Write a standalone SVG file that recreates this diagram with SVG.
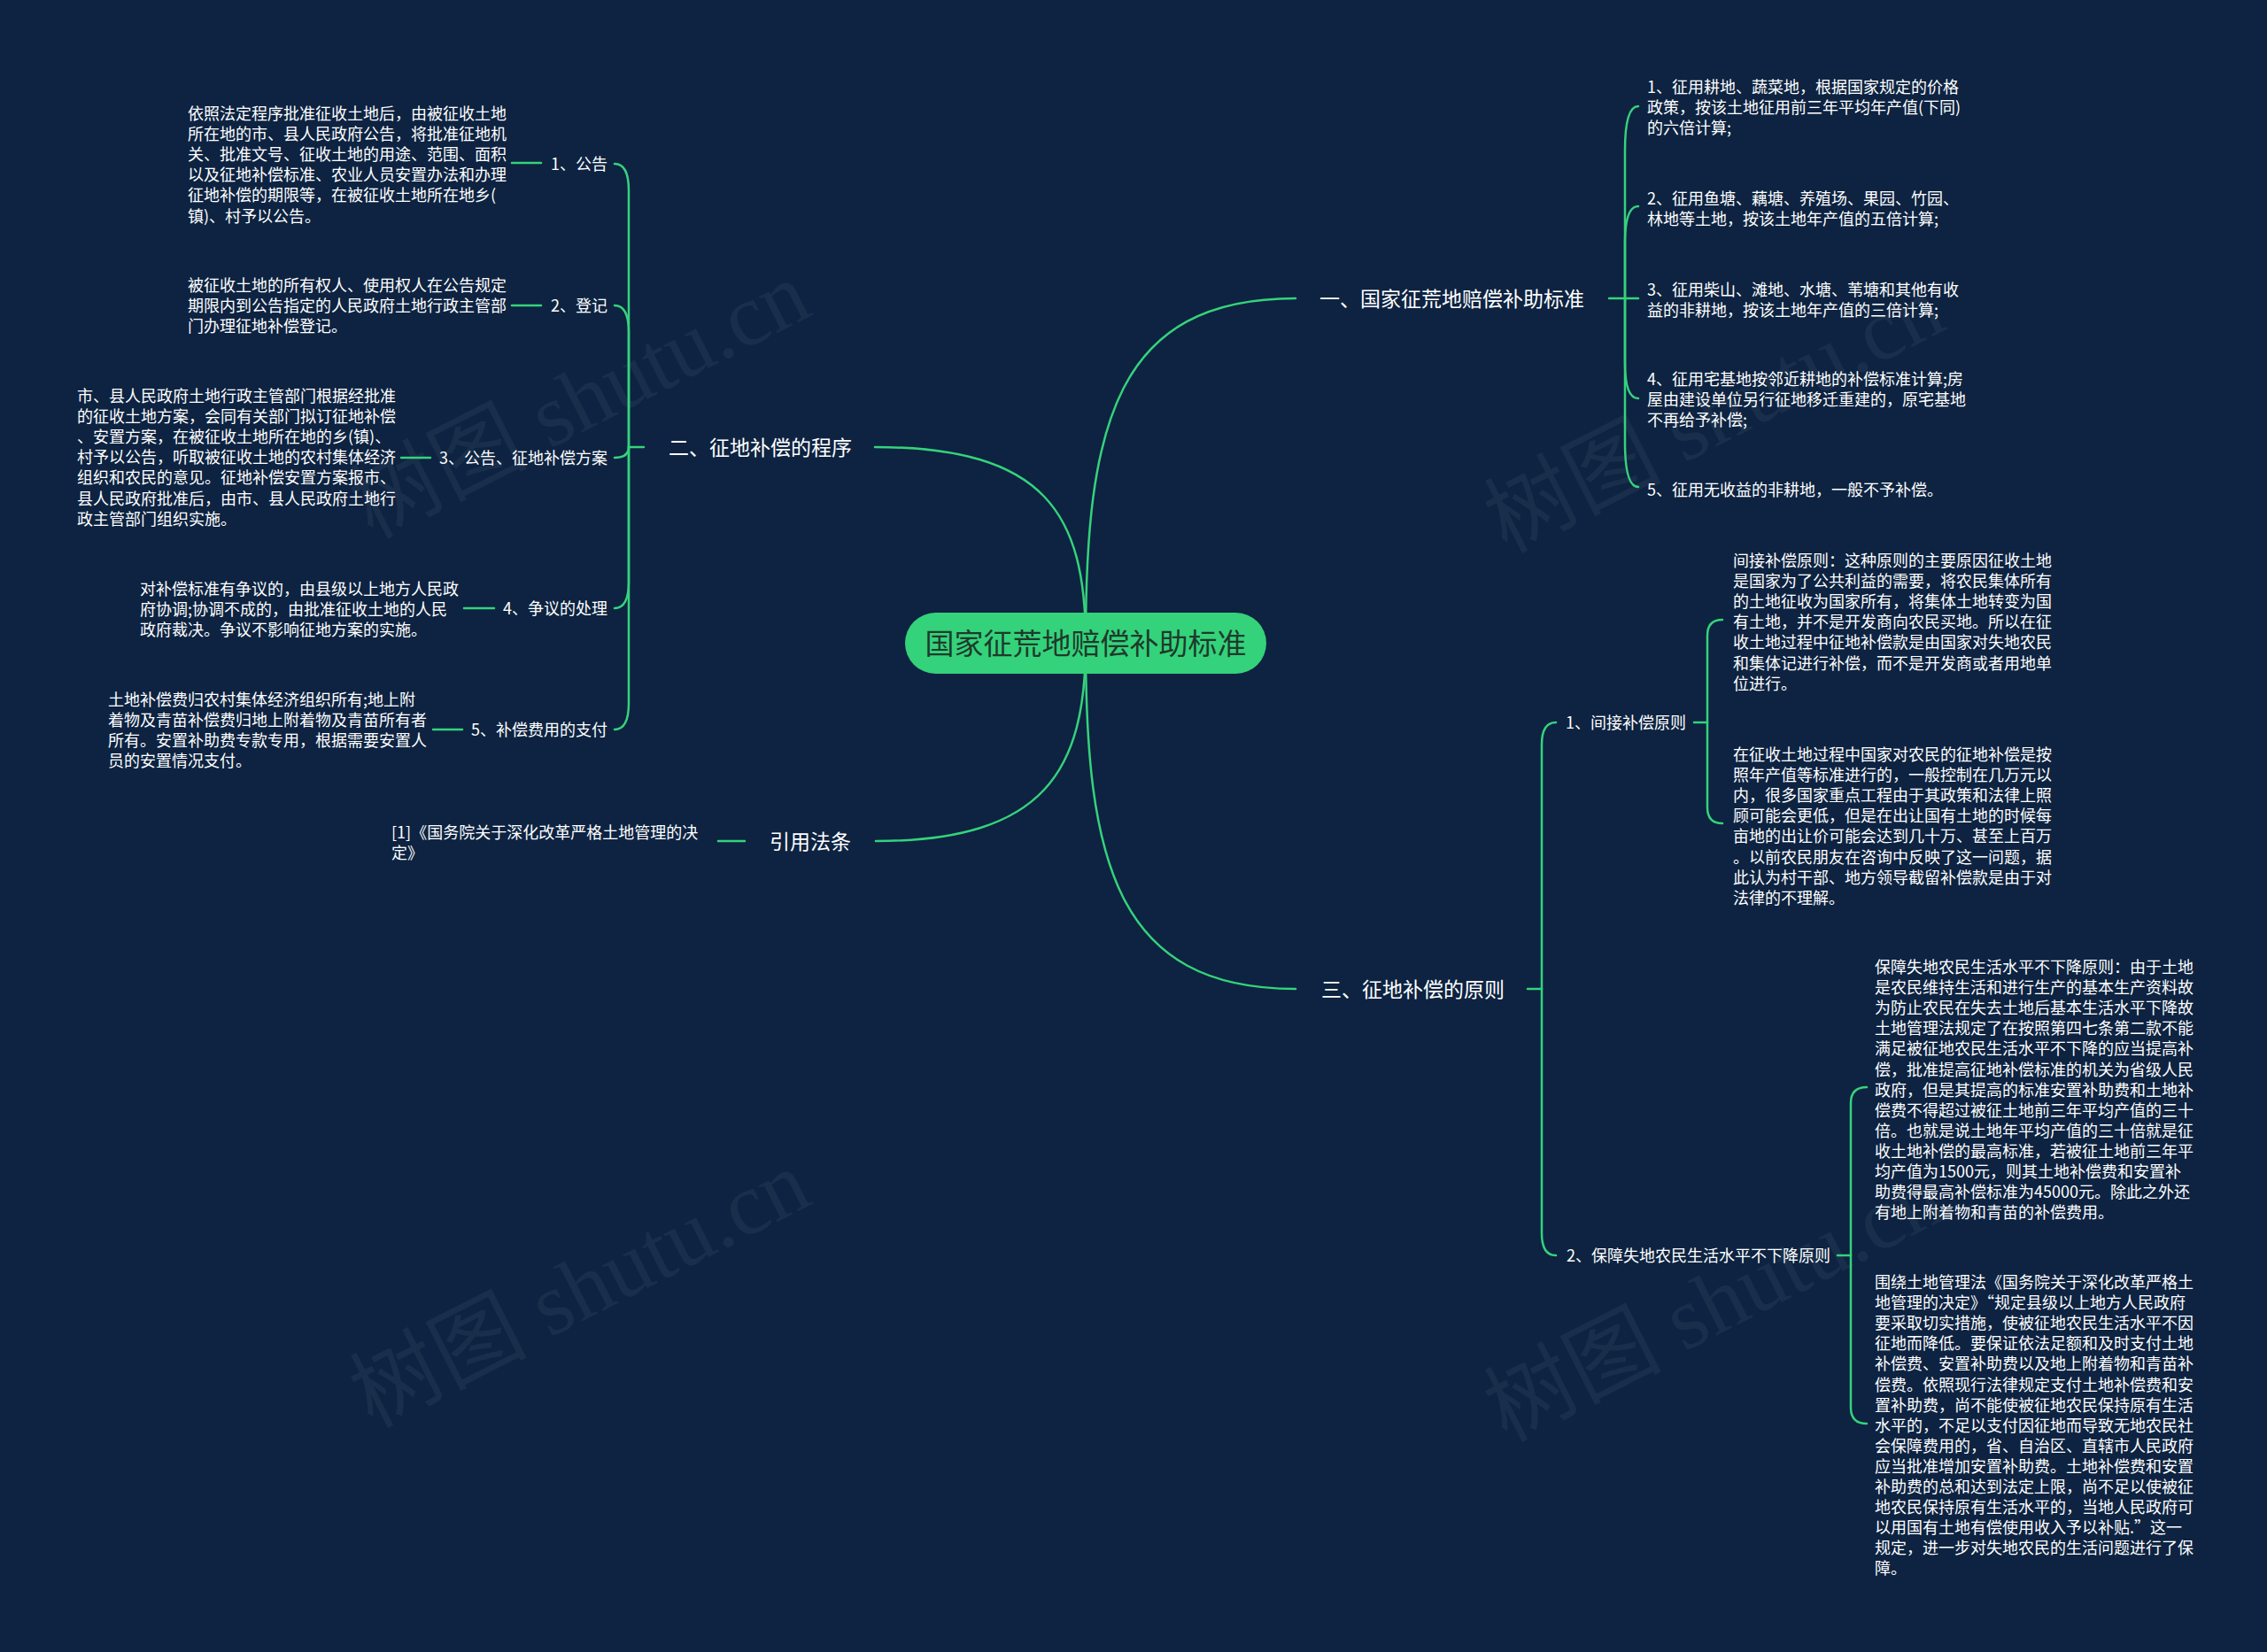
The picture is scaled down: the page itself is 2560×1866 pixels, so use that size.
<svg xmlns="http://www.w3.org/2000/svg" width="2560" height="1866" viewBox="0 0 2560 1866">
<style>
.t{font-family:"Noto Sans CJK SC","Noto Sans CJK JP",sans-serif;fill:#ffffff}
.s{font-size:18px}
.b{font-size:23px}
.e{text-anchor:end}
.r{font-size:33px;fill:#1e3a2b;text-anchor:middle}
.c{fill:none;stroke:#36d27c;stroke-width:2.5;stroke-linecap:round}
.w{font-family:"Liberation Serif","Noto Sans CJK SC",serif;font-size:100px;fill:#ffffff;fill-opacity:0.05}
</style>
<rect width="2560" height="1866" fill="#0d2341"/>
<g id="watermarks">
<text class="w" text-anchor="middle" transform="translate(670,482) rotate(-27)">树图 shutu.cn</text>
<text class="w" text-anchor="middle" transform="translate(1951,498) rotate(-27)">树图 shutu.cn</text>
<text class="w" text-anchor="middle" transform="translate(670,1486) rotate(-27)">树图 shutu.cn</text>
<text class="w" text-anchor="middle" transform="translate(1951,1502) rotate(-27)">树图 shutu.cn</text>
</g>
<g id="connectors">
<path class="c" d="M1226,726 C1226,480 1260,337 1463,337"/>
<path class="c" d="M1226,726 C1226,972 1260,1117 1463,1117"/>
<path class="c" d="M1226,726 C1226,580 1180,505 988,505"/>
<path class="c" d="M1226,726 C1226,870 1180,950 989,950"/>
<path class="c" d="M1817,337 H1850"/>
<path class="c" d="M1835,337 V170 Q1835,120 1850,120"/>
<path class="c" d="M1835,337 V275 Q1835,233 1850,233"/>
<path class="c" d="M1835,337 V410 Q1835,450 1850,450"/>
<path class="c" d="M1835,337 V500 Q1835,550 1850,550"/>
<path class="c" d="M727,505 H710"/>
<path class="c" d="M710,505 V215 Q710,185 694,185"/>
<path class="c" d="M710,505 V375 Q710,345 694,345"/>
<path class="c" d="M710,505 Q710,517 694,517"/>
<path class="c" d="M710,505 V657 Q710,687 694,687"/>
<path class="c" d="M710,505 V794 Q710,824 694,824"/>
<path class="c" d="M578,184 H611"/>
<path class="c" d="M578,345 H611"/>
<path class="c" d="M453,517 H486"/>
<path class="c" d="M524,687 H558"/>
<path class="c" d="M489,824 H522"/>
<path class="c" d="M811,950 H841"/>
<path class="c" d="M1725,1117 H1741"/>
<path class="c" d="M1741,1117 V841 Q1741,816 1757,816"/>
<path class="c" d="M1741,1117 V1393 Q1741,1418 1757,1418"/>
<path class="c" d="M1913,816 H1928"/>
<path class="c" d="M1928,816 V718 Q1928,700 1945,700"/>
<path class="c" d="M1928,816 V912 Q1928,930 1945,930"/>
<path class="c" d="M2075,1418 H2090"/>
<path class="c" d="M2090,1418 V1246 Q2090,1228 2108,1228"/>
<path class="c" d="M2090,1418 V1590 Q2090,1608 2108,1608"/>
</g>
<g id="root">
<rect x="1022" y="692" width="408" height="69" rx="34.5" fill="#34d27b"/>
<text class="t r" x="1226" y="739">国家征荒地赔偿补助标准</text>
</g>
<g id="branch1">
<text class="t b" x="1490" y="346">一、国家征荒地赔偿补助标准</text>
</g>
<g id="b1c1"><text class="t s" x="1860" y="105"><tspan x="1860">1、征用耕地、蔬菜地，根据国家规定的价格</tspan><tspan x="1860" dy="23.1">政策，按该土地征用前三年平均年产值(下同)</tspan><tspan x="1860" dy="23.1">的六倍计算;</tspan></text></g>
<g id="b1c2"><text class="t s" x="1860" y="231"><tspan x="1860">2、征用鱼塘、藕塘、养殖场、果园、竹园、</tspan><tspan x="1860" dy="23.1">林地等土地，按该土地年产值的五倍计算;</tspan></text></g>
<g id="b1c3"><text class="t s" x="1860" y="334"><tspan x="1860">3、征用柴山、滩地、水塘、苇塘和其他有收</tspan><tspan x="1860" dy="23.1">益的非耕地，按该土地年产值的三倍计算;</tspan></text></g>
<g id="b1c4"><text class="t s" x="1860" y="435"><tspan x="1860">4、征用宅基地按邻近耕地的补偿标准计算;房</tspan><tspan x="1860" dy="23.1">屋由建设单位另行征地移迁重建的，原宅基地</tspan><tspan x="1860" dy="23.1">不再给予补偿;</tspan></text></g>
<g id="b1c5"><text class="t s" x="1860" y="560">5、征用无收益的非耕地，一般不予补偿。</text></g>
<g id="branch2">
<text class="t b" x="755" y="514">二、征地补偿的程序</text>
</g>
<g id="b2c1">
<text class="t s e" x="686" y="192">1、公告</text>
<text class="t s" x="212" y="135"><tspan x="212">依照法定程序批准征收土地后，由被征收土地</tspan><tspan x="212" dy="23.1">所在地的市、县人民政府公告，将批准征地机</tspan><tspan x="212" dy="23.1">关、批准文号、征收土地的用途、范围、面积</tspan><tspan x="212" dy="23.1">以及征地补偿标准、农业人员安置办法和办理</tspan><tspan x="212" dy="23.1">征地补偿的期限等，在被征收土地所在地乡(</tspan><tspan x="212" dy="23.1">镇)、村予以公告。</tspan></text>
</g>
<g id="b2c2">
<text class="t s e" x="686" y="352">2、登记</text>
<text class="t s" x="212" y="329"><tspan x="212">被征收土地的所有权人、使用权人在公告规定</tspan><tspan x="212" dy="23.1">期限内到公告指定的人民政府土地行政主管部</tspan><tspan x="212" dy="23.1">门办理征地补偿登记。</tspan></text>
</g>
<g id="b2c3">
<text class="t s e" x="686" y="524">3、公告、征地补偿方案</text>
<text class="t s" x="87" y="454"><tspan x="87">市、县人民政府土地行政主管部门根据经批准</tspan><tspan x="87" dy="23.1">的征收土地方案，会同有关部门拟订征地补偿</tspan><tspan x="87" dy="23.1">、安置方案，在被征收土地所在地的乡(镇)、</tspan><tspan x="87" dy="23.1">村予以公告，听取被征收土地的农村集体经济</tspan><tspan x="87" dy="23.1">组织和农民的意见。征地补偿安置方案报市、</tspan><tspan x="87" dy="23.1">县人民政府批准后，由市、县人民政府土地行</tspan><tspan x="87" dy="23.1">政主管部门组织实施。</tspan></text>
</g>
<g id="b2c4">
<text class="t s e" x="686" y="694">4、争议的处理</text>
<text class="t s" x="158" y="672"><tspan x="158">对补偿标准有争议的，由县级以上地方人民政</tspan><tspan x="158" dy="23.1">府协调;协调不成的，由批准征收土地的人民</tspan><tspan x="158" dy="23.1">政府裁决。争议不影响征地方案的实施。</tspan></text>
</g>
<g id="b2c5">
<text class="t s e" x="686" y="831">5、补偿费用的支付</text>
<text class="t s" x="122" y="797"><tspan x="122">土地补偿费归农村集体经济组织所有;地上附</tspan><tspan x="122" dy="23.1">着物及青苗补偿费归地上附着物及青苗所有者</tspan><tspan x="122" dy="23.1">所有。安置补助费专款专用，根据需要安置人</tspan><tspan x="122" dy="23.1">员的安置情况支付。</tspan></text>
</g>
<g id="branch4">
<text class="t b" x="869" y="959">引用法条</text>
</g>
<g id="b4c1">
<text class="t s" x="442" y="947"><tspan x="442">[1]《国务院关于深化改革严格土地管理的决</tspan><tspan x="442" dy="23.1">定》</tspan></text>
</g>
<g id="branch3">
<text class="t b" x="1492" y="1126">三、征地补偿的原则</text>
</g>
<g id="b3c1">
<text class="t s" x="1768" y="823">1、间接补偿原则</text>
</g>
<g id="b3c1g1">
<text class="t s" x="1957" y="640"><tspan x="1957">间接补偿原则：这种原则的主要原因征收土地</tspan><tspan x="1957" dy="23.1">是国家为了公共利益的需要，将农民集体所有</tspan><tspan x="1957" dy="23.1">的土地征收为国家所有，将集体土地转变为国</tspan><tspan x="1957" dy="23.1">有土地，并不是开发商向农民买地。所以在征</tspan><tspan x="1957" dy="23.1">收土地过程中征地补偿款是由国家对失地农民</tspan><tspan x="1957" dy="23.1">和集体记进行补偿，而不是开发商或者用地单</tspan><tspan x="1957" dy="23.1">位进行。</tspan></text>
</g>
<g id="b3c1g2">
<text class="t s" x="1957" y="859"><tspan x="1957">在征收土地过程中国家对农民的征地补偿是按</tspan><tspan x="1957" dy="23.1">照年产值等标准进行的，一般控制在几万元以</tspan><tspan x="1957" dy="23.1">内，很多国家重点工程由于其政策和法律上照</tspan><tspan x="1957" dy="23.1">顾可能会更低，但是在出让国有土地的时候每</tspan><tspan x="1957" dy="23.1">亩地的出让价可能会达到几十万、甚至上百万</tspan><tspan x="1957" dy="23.1">。以前农民朋友在咨询中反映了这一问题，据</tspan><tspan x="1957" dy="23.1">此认为村干部、地方领导截留补偿款是由于对</tspan><tspan x="1957" dy="23.1">法律的不理解。</tspan></text>
</g>
<g id="b3c2">
<text class="t s" x="1769" y="1425">2、保障失地农民生活水平不下降原则</text>
</g>
<g id="b3c2g1">
<text class="t s" x="2117" y="1099"><tspan x="2117">保障失地农民生活水平不下降原则：由于土地</tspan><tspan x="2117" dy="23.1">是农民维持生活和进行生产的基本生产资料故</tspan><tspan x="2117" dy="23.1">为防止农民在失去土地后基本生活水平下降故</tspan><tspan x="2117" dy="23.1">土地管理法规定了在按照第四七条第二款不能</tspan><tspan x="2117" dy="23.1">满足被征地农民生活水平不下降的应当提高补</tspan><tspan x="2117" dy="23.1">偿，批准提高征地补偿标准的机关为省级人民</tspan><tspan x="2117" dy="23.1">政府，但是其提高的标准安置补助费和土地补</tspan><tspan x="2117" dy="23.1">偿费不得超过被征土地前三年平均产值的三十</tspan><tspan x="2117" dy="23.1">倍。也就是说土地年平均产值的三十倍就是征</tspan><tspan x="2117" dy="23.1">收土地补偿的最高标准，若被征土地前三年平</tspan><tspan x="2117" dy="23.1">均产值为1500元，则其土地补偿费和安置补</tspan><tspan x="2117" dy="23.1">助费得最高补偿标准为45000元。除此之外还</tspan><tspan x="2117" dy="23.1">有地上附着物和青苗的补偿费用。</tspan></text>
</g>
<g id="b3c2g2">
<text class="t s" x="2117" y="1455"><tspan x="2117">围绕土地管理法《国务院关于深化改革严格土</tspan><tspan x="2117" dy="23.1">地管理的决定》“规定县级以上地方人民政府</tspan><tspan x="2117" dy="23.1">要采取切实措施，使被征地农民生活水平不因</tspan><tspan x="2117" dy="23.1">征地而降低。要保证依法足额和及时支付土地</tspan><tspan x="2117" dy="23.1">补偿费、安置补助费以及地上附着物和青苗补</tspan><tspan x="2117" dy="23.1">偿费。依照现行法律规定支付土地补偿费和安</tspan><tspan x="2117" dy="23.1">置补助费，尚不能使被征地农民保持原有生活</tspan><tspan x="2117" dy="23.1">水平的，不足以支付因征地而导致无地农民社</tspan><tspan x="2117" dy="23.1">会保障费用的，省、自治区、直辖市人民政府</tspan><tspan x="2117" dy="23.1">应当批准增加安置补助费。土地补偿费和安置</tspan><tspan x="2117" dy="23.1">补助费的总和达到法定上限，尚不足以使被征</tspan><tspan x="2117" dy="23.1">地农民保持原有生活水平的，当地人民政府可</tspan><tspan x="2117" dy="23.1">以用国有土地有偿使用收入予以补贴.”这一</tspan><tspan x="2117" dy="23.1">规定，进一步对失地农民的生活问题进行了保</tspan><tspan x="2117" dy="23.1">障。</tspan></text>
</g>
</svg>
